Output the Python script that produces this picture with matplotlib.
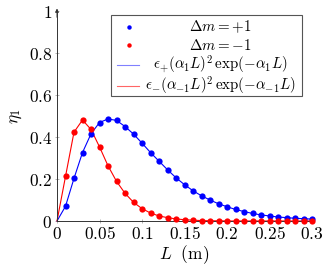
import matplotlib
matplotlib.use("Agg")
import matplotlib.pyplot as plt
from matplotlib.patches import Rectangle
from matplotlib.lines import Line2D

plt.rcParams['mathtext.fontset'] = 'cm'
plt.rcParams['font.family'] = ['DejaVu Serif']

L = [0.00, 0.01, 0.02, 0.03, 0.04, 0.05, 0.06, 0.07, 0.08, 0.09, 0.10,
     0.11, 0.12, 0.13, 0.14, 0.15, 0.16, 0.17, 0.18, 0.19, 0.20,
     0.21, 0.22, 0.23, 0.24, 0.25, 0.26, 0.27, 0.28, 0.29, 0.30]
eta_plus = [0.0, 0.070, 0.203, 0.326, 0.415, 0.469, 0.486, 0.479, 0.450, 0.414, 0.371,
            0.326, 0.285, 0.244, 0.206, 0.173, 0.144, 0.120, 0.100, 0.082, 0.068,
            0.055, 0.045, 0.036, 0.029, 0.024, 0.019, 0.016, 0.013, 0.011, 0.009]
eta_minus = [0.0, 0.212, 0.423, 0.481, 0.436, 0.353, 0.263, 0.189, 0.132, 0.089, 0.059,
             0.038, 0.024, 0.016, 0.010, 0.006, 0.004, 0.002, 0.001, 0.001, 0.0,
             0.0, 0.0, 0.0, 0.0, 0.0, 0.0, 0.0, 0.0, 0.0, 0.0]
xticks = [0, 0.05, 0.1, 0.15, 0.2, 0.25, 0.3]
xticklabels = ['0', '0.05', '0.1', '0.15', '0.2', '0.25', '0.3']
yticks = [0, 0.2, 0.4, 0.6, 0.8, 1]
yticklabels = ['0', '0.2', '0.4', '0.6', '0.8', '1']
legend_labels = [r'$\Delta m = +1$', r'$\Delta m = -1$',
                 r'$\epsilon_{+}(\alpha_1 L)^2\,\exp(-\alpha_1 L)$',
                 r'$\epsilon_{-}(\alpha_{-1} L)^2\,\exp(-\alpha_{-1} L)$']

W, H = 327, 269
fig = plt.figure(figsize=(W/100, H/100), dpi=100)
ax = fig.add_axes([57/W, 1-221/H, (312-57)/W, (221-11)/H])

blue = (0, 0, 1)
red = (1, 0, 0)
ax.plot(L, eta_plus, color=blue, lw=0.8, zorder=2, clip_on=False)
ax.plot(L, eta_minus, color=red, lw=0.8, zorder=2, clip_on=False)
ax.plot(L[1:], eta_plus[1:], 'o', color=blue, ms=4.5, mec='none', zorder=3, clip_on=False)
ax.plot(L[1:], eta_minus[1:], 'o', color=red, ms=4.5, mec='none', zorder=4, clip_on=False)

ax.set_xlim(0, 0.3)
ax.set_ylim(0, 1)
ax.set_xticks(xticks)
ax.set_xticklabels(['$' + s + '$' for s in xticklabels])
ax.set_yticks(yticks)
ax.set_yticklabels(['$' + s + '$' for s in yticklabels])
ax.tick_params(direction='inout', length=3, width=0.5, color='#999999', labelsize=12.5, pad=2)
for s in ['top', 'right']:
    ax.spines[s].set_visible(False)
for s in ['left', 'bottom']:
    ax.spines[s].set_linewidth(0.7)
    ax.spines[s].set_color('#333333')
ax.annotate('', xy=(0, 1.012), xytext=(0, 0.97), xycoords='axes fraction',
            arrowprops=dict(arrowstyle='-|>', color='#333333', lw=0.7,
                            mutation_scale=5, shrinkA=0, shrinkB=0))

ax.set_xlabel(r'$L\ \ (\mathrm{m})$', fontsize=12.5, labelpad=0)
ax.set_ylabel(r'$\eta_1$', fontsize=12.5, labelpad=3)

tf = fig.transFigure
def P(x, y):
    return (x / W, 1 - y / H)

x0, y0 = P(111, 96)
x1, y1 = P(302, 15)
fig.patches.append(Rectangle((x0, y0), x1 - x0, y1 - y0, transform=tf,
                             facecolor='white', edgecolor='#555555', lw=0.8, zorder=10))
rows = [27, 45, 65, 86]
cx = 220
fig.add_artist(Line2D([P(129, 0)[0]], [P(0, rows[0])[1]], marker='o', color=blue, ms=3.2,
                      mec='none', ls='none', transform=tf, zorder=11))
fig.add_artist(Line2D([P(129, 0)[0]], [P(0, rows[1])[1]], marker='o', color=red, ms=3.2,
                      mec='none', ls='none', transform=tf, zorder=11))
fig.add_artist(Line2D([P(117, 0)[0], P(139, 0)[0]], [P(0, rows[2])[1]] * 2,
                      color=(0.5, 0.5, 1), lw=0.8, transform=tf, zorder=11))
fig.add_artist(Line2D([P(117, 0)[0], P(139, 0)[0]], [P(0, rows[3])[1]] * 2,
                      color=(1, 0.4, 0.4), lw=0.8, transform=tf, zorder=11))
for lab, r in zip(legend_labels, rows):
    fig.text(P(cx, 0)[0], P(0, r)[1], lab, ha='center', va='center',
             fontsize=10.8, transform=tf, zorder=12)

fig.savefig('out.png', dpi=100)
